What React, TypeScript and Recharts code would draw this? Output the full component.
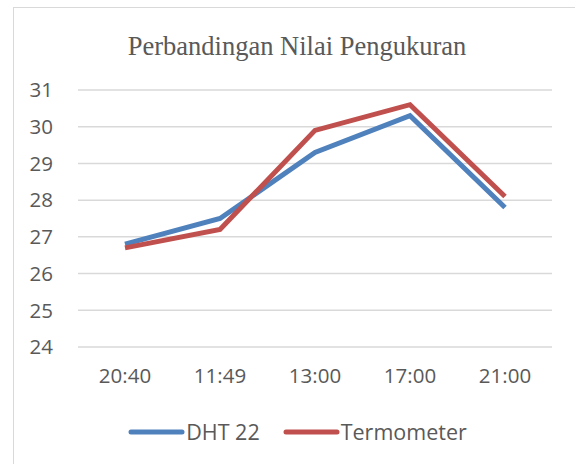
import React from "react";
import { LineChart, Line, XAxis, YAxis, CartesianGrid, Legend } from "recharts";

const categories = ["20:40", "11:49", "13:00", "17:00", "21:00"];
const dht22 = [26.8, 27.5, 29.3, 30.3, 27.8];
const termometer = [26.7, 27.2, 29.9, 30.6, 28.1];
const yTicks = [24, 25, 26, 27, 28, 29, 30, 31];

const seriesNames = ["DHT 22", "Termometer"];
const colors = ["#4f81bd", "#c0504d"];

const data = categories.map((c, i) => ({
  time: c,
  dht: dht22[i],
  term: termometer[i],
}));

const FONT = "'Open Sans', 'Noto Sans', sans-serif";
const TEXT = "#595959";

const renderLegend = () => (
  <div
    style={{
      display: "flex",
      justifyContent: "center",
      alignItems: "center",
      fontFamily: FONT,
      fontSize: 21.5,
      color: TEXT,
      height: 25,
      paddingLeft: 20,
    }}
  >
    {seriesNames.map((n, i) => (
      <div key={n} style={{ display: "flex", alignItems: "center", marginRight: i === 0 ? 23 : 0 }}>
        <svg width={57} height={8} style={{ display: "block" }}>
          <line x1={3} y1={4} x2={54} y2={4} stroke={colors[i]} strokeWidth={5} strokeLinecap="round" />
        </svg>
        <span style={{ marginLeft: 1 }}>{n}</span>
      </div>
    ))}
  </div>
);

export default function App() {
  return (
    <div
      style={{
        position: "fixed",
        left: 0,
        top: 0,
        width: 575,
        height: 464,
        overflow: "hidden",
        background: "#ffffff",
      }}
    >
      <div
        style={{
          position: "absolute",
          left: 13,
          top: 7,
          width: 700,
          height: 600,
          border: "1.5px solid #d9d9d9",
          boxSizing: "border-box",
        }}
      />
      <div
        style={{
          position: "absolute",
          left: 0,
          top: 31,
          width: 594,
          textAlign: "center",
          fontFamily: "'Liberation Serif', 'Times New Roman', serif",
          fontSize: 26.5,
          color: TEXT,
        }}
      >
        Perbandingan Nilai Pengukuran
      </div>
      <div style={{ position: "absolute", left: 0, top: 0 }}>
        <LineChart
          width={575}
          height={464}
          data={data}
          margin={{ top: 90, right: 23, bottom: 52, left: 0 }}
        >
          <CartesianGrid vertical={false} stroke="#d9d9d9" strokeWidth={1.5} />
          <XAxis
            dataKey="time"
            axisLine={false}
            tickLine={false}
            tickSize={6}
            tickMargin={15}
            height={40}
            padding={{ left: 47, right: 47 }}
            tick={{ fill: TEXT, fontSize: 20.5, fontFamily: FONT }}
            interval={0}
          />
          <YAxis
            domain={[24, 31]}
            ticks={yTicks}
            axisLine={false}
            tickLine={false}
            tickSize={6}
            tickMargin={19}
            width={78}
            tick={{ fill: TEXT, fontSize: 20.5, fontFamily: FONT }}
            interval={0}
          />
          <Legend
            verticalAlign="bottom"
            content={renderLegend}
            wrapperStyle={{ position: "absolute", top: 419, left: 0, width: 575 }}
          />
          <Line
            type="linear"
            dataKey="dht"
            name={seriesNames[0]}
            stroke={colors[0]}
            strokeWidth={5}
            dot={false}
            activeDot={false}
            isAnimationActive={false}
          />
          <Line
            type="linear"
            dataKey="term"
            name={seriesNames[1]}
            stroke={colors[1]}
            strokeWidth={5}
            dot={false}
            activeDot={false}
            isAnimationActive={false}
          />
        </LineChart>
      </div>
    </div>
  );
}
